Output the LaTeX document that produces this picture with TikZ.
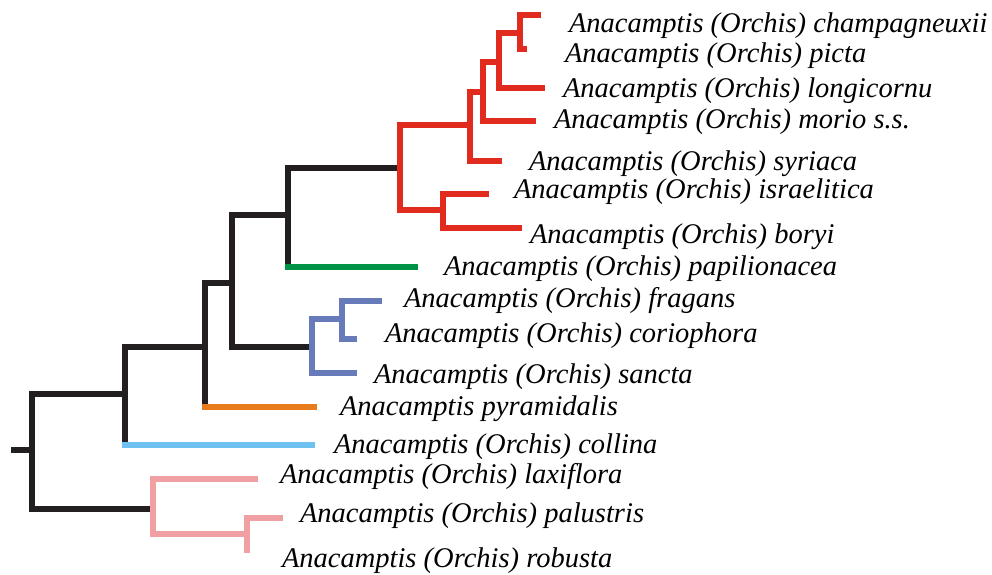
\documentclass[tikz,border=0pt]{standalone}
\usepackage{fontspec}
\setmainfont{Liberation Serif}
\usepackage{tikz}
\usetikzlibrary{positioning}
\definecolor{stem}{HTML}{231F20}
\definecolor{red}{HTML}{E02B1E}
\definecolor{green}{HTML}{009245}
\definecolor{blue}{HTML}{677AB9}
\definecolor{orange}{HTML}{E87C1D}
\definecolor{lightblue}{HTML}{6EC1F0}
\definecolor{pink}{HTML}{F0A0A2}

\begin{document}
\begin{tikzpicture}[x=1pt,y=-1pt,line width=6pt,line cap=rect,
  taxon/.style={anchor=base west,inner sep=0pt,font=\fontsize{28.5}{32}\selectfont\itshape}]
  \useasboundingbox (0,0) rectangle (992,574);
  % internal nodes, at the height of their stem
  \foreach \n/\x/\y in {root/32/450,b4/125/394,b3/205/347,b2/232/283,b1/288/215,
    r/400/168,n4/470/125,n3/483/92,n2/499/62,n1/520/33,n5/443/210,
    c2/312/347,c1/342/319,p2/153/509,p1/247/534}
    \coordinate (\n) at (\x,\y);
  \coordinate (rootend) at (14,450);
  % tips
  \foreach \n/\x/\y in {champ/538/15,picta/524/49,longi/542/88,morio/533/121,
    syri/499/161,isra/486/194,bory/519/228,papi/415/267,frag/379/301,
    corio/354/339,sanc/354/373,pyra/314/407,coll/312/445,laxi/255/479,
    palu/280/518,robu/247/550}
    \coordinate (\n) at (\x,\y);
  % branches to inner nodes
  \draw[stem] (rootend) -- (root);
  \foreach \p/\c/\col in {root/b4/stem,root/p2/stem,b4/b3/stem,b3/b2/stem,b2/b1/stem,
    b2/c2/stem,b1/r/stem,r/n4/red,r/n5/red,n4/n3/red,n3/n2/red,n2/n1/red,
    c2/c1/blue,p2/p1/pink}
    \draw[\col] (\p |- \c) -- (\c);
  % vertical bars
  \foreach \n/\a/\b/\col in {root/b4/p2/stem,b4/b3/coll/stem,b3/b2/pyra/stem,
    b2/b1/c2/stem,b1/r/papi/stem,r/n4/n5/red,n4/n3/syri/red,n3/n2/morio/red,
    n2/n1/longi/red,n1/champ/picta/red,n5/isra/bory/red,c2/c1/sanc/blue,
    c1/frag/corio/blue,p2/laxi/p1/pink,p1/palu/robu/pink}
    \draw[\col] (\n |- \a) -- (\n |- \b);
  % branches to tips and labels
  \foreach \p/\t/\col/\lx/\ly/\txt in {
    n1/champ/red/566/32/Anacamptis (Orchis) champagneuxii,
    n1/picta/red/562/62/Anacamptis (Orchis) picta,
    n2/longi/red/560/97/Anacamptis (Orchis) longicornu,
    n3/morio/red/551/128/Anacamptis (Orchis) morio s.s.,
    n4/syri/red/526/170/Anacamptis (Orchis) syriaca,
    n5/isra/red/511/198/Anacamptis (Orchis) israelitica,
    n5/bory/red/527/243/Anacamptis (Orchis) boryi,
    b1/papi/green/441/275/Anacamptis (Orchis) papilionacea,
    c1/frag/blue/401/307/Anacamptis (Orchis) fragans,
    c1/corio/blue/382/342/Anacamptis (Orchis) coriophora,
    c2/sanc/blue/371/383/Anacamptis (Orchis) sancta,
    b3/pyra/orange/337/415/Anacamptis pyramidalis,
    b4/coll/lightblue/331/453/Anacamptis (Orchis) collina,
    p2/laxi/pink/277/483/Anacamptis (Orchis) laxiflora,
    p1/palu/pink/297/522/Anacamptis (Orchis) palustris,
    p1/robu/pink/279/567/Anacamptis (Orchis) robusta}{
    \draw[\col] (\p |- \t) -- (\t);
    \node[taxon] (\t-lab) at (\lx,\ly) {\txt};}
\end{tikzpicture}
\end{document}
